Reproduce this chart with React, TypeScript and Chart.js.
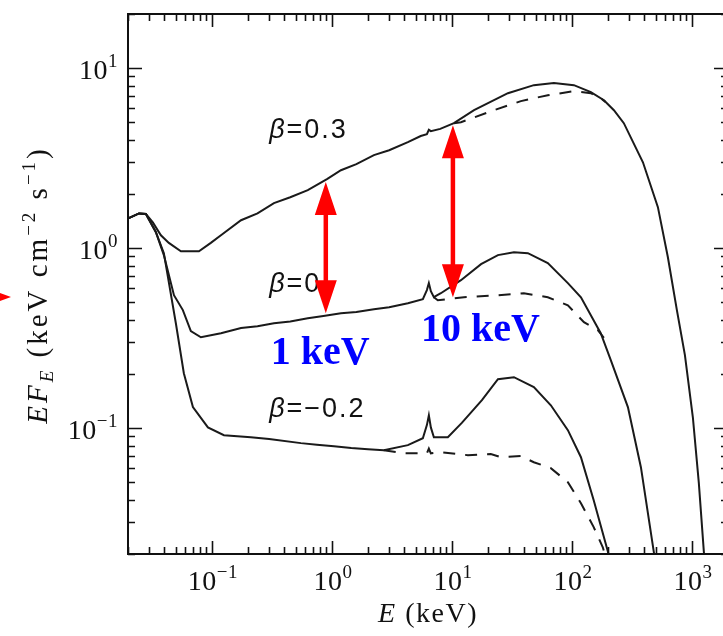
import { useEffect, useRef } from "react";
import { Chart, registerables } from "chart.js";

Chart.register(...registerables);

const CANVAS_W = 740;
const CANVAS_H = 636;

// axis ranges and ticks
const xRange = [0.02, 2000];
const yRange = [0.02, 20];
const xTickExponents = [-1, 0, 1, 2, 3];
const yTickExponents = [-1, 0, 1];
const minorMultipliers = [2, 3, 4, 5, 6, 7, 8, 9];

// beta = 0.3 (solid: total, dashed: without reflection hump)
const b03SolidE = [0.0203, 0.0247, 0.0282, 0.0322, 0.0376, 0.0438, 0.0552, 0.078, 0.098, 0.119, 0.175, 0.24, 0.329, 0.45, 0.63, 0.91, 1.19, 1.6, 2.24, 3.0, 4.3, 5.5, 6.19, 6.43, 6.68, 8.0, 10.4, 15.3, 29.3, 48.2, 70.8, 104, 144, 185, 224, 271, 391, 521, 631, 750, 875, 1019, 1143, 1259, 1300];
const b03SolidF = [1.47, 1.56, 1.55, 1.39, 1.18, 1.07, 0.962, 0.962, 1.07, 1.18, 1.43, 1.56, 1.78, 1.92, 2.1, 2.42, 2.71, 2.93, 3.29, 3.5, 3.88, 4.2, 4.3, 4.55, 4.47, 4.6, 4.95, 5.84, 7.26, 8.05, 8.26, 8.05, 7.36, 6.64, 5.84, 4.95, 3.0, 1.69, 0.891, 0.453, 0.2545, 0.115, 0.0495, 0.0205, 0.016];
const b03DashE = [10.4, 11.9, 22.4, 37.6, 63, 104, 144, 174, 190];
const b03DashF = [4.95, 5.01, 5.84, 6.56, 7.08, 7.45, 7.26, 6.81, 6.5];

// beta = 0
const b0SolidE = [0.0203, 0.0247, 0.0282, 0.0341, 0.0398, 0.0483, 0.0573, 0.0668, 0.081, 0.119, 0.175, 0.24, 0.329, 0.45, 0.63, 0.85, 1.19, 1.6, 2.24, 3.0, 4.3, 5.73, 6.19, 6.43, 6.68, 7.08, 8.09, 11.9, 17.5, 24.2, 32.9, 43, 63, 92.6, 119, 174, 211, 293, 376, 482, 500];
const b0SolidF = [1.47, 1.56, 1.55, 1.23, 0.915, 0.548, 0.453, 0.346, 0.32, 0.337, 0.36, 0.368, 0.383, 0.392, 0.408, 0.42, 0.435, 0.442, 0.458, 0.47, 0.495, 0.521, 0.585, 0.64, 0.577, 0.534, 0.562, 0.664, 0.815, 0.915, 0.95, 0.938, 0.826, 0.64, 0.534, 0.337, 0.239, 0.131, 0.0607, 0.0205, 0.017];
const b0DashE = [7.08, 7.63, 12.6, 24.2, 39.8, 63, 92.6, 126, 165, 185];
const b0DashF = [0.534, 0.514, 0.534, 0.548, 0.562, 0.534, 0.482, 0.388, 0.35, 0.318];

// beta = -0.2
const bm02SolidE = [0.0203, 0.0247, 0.0282, 0.0341, 0.0398, 0.0501, 0.0584, 0.0695, 0.0927, 0.126, 0.211, 0.3, 0.552, 0.75, 1.04, 1.45, 2.0, 2.71, 4.3, 5.73, 6.19, 6.43, 6.68, 7.08, 9.26, 12.1, 17.8, 24.2, 32.9, 48.2, 66.8, 92.6, 119, 152, 200, 210];
const bm02SolidF = [1.47, 1.56, 1.55, 1.23, 0.938, 0.383, 0.202, 0.131, 0.101, 0.0914, 0.0891, 0.087, 0.0826, 0.081, 0.0794, 0.0775, 0.0764, 0.0755, 0.0805, 0.088, 0.104, 0.118, 0.101, 0.0891, 0.0891, 0.107, 0.143, 0.187, 0.192, 0.169, 0.134, 0.0975, 0.069, 0.0398, 0.0205, 0.017];
const bm02DashE = [2.71, 4.0, 6.19, 6.43, 6.68, 8.09, 13.6, 21.1, 25.6, 37.6, 48.2, 66.8, 92.6, 119, 152, 181, 190];
const bm02DashF = [0.0755, 0.0726, 0.0725, 0.077, 0.0725, 0.0736, 0.0708, 0.0718, 0.069, 0.07, 0.0647, 0.06, 0.0501, 0.0383, 0.0282, 0.0218, 0.0195];

// annotations (data coordinates)
const betaLabels = ["0.3", "0", "\u22120.2"];
const betaLabelE = [0.3, 0.3, 0.3];
const betaLabelF = [4.08, 0.57, 0.115];
const keVLabels = ["1 keV", "10 keV"];
const keVLabelE = [0.31, 5.52];
const keVLabelF = [0.227, 0.304];
const arrowE = [0.89, 10.2];
const arrowTopF = [2.33, 4.82];
const arrowBottomF = [0.435, 0.534];

const SERIF = '"Liberation Serif", "Times New Roman", serif';
const SANS = '"Liberation Sans", Arial, Helvetica, sans-serif';

type Part = { t: string; size: number; style?: string; weight?: string; dy?: number; family?: string };

function partFont(p: Part) {
  return `${p.style || "normal"} ${p.weight || "normal"} ${p.size}px ${p.family || SERIF}`;
}

function drawParts(ctx: CanvasRenderingContext2D, parts: Part[], x: number, y: number, align: string, spacing: number) {
  (ctx as any).letterSpacing = spacing + "px";
  let w = 0;
  for (const p of parts) {
    ctx.font = partFont(p);
    w += ctx.measureText(p.t).width;
  }
  let cx = align === "center" ? x - w / 2 : align === "right" ? x - w : x;
  ctx.textAlign = "left";
  ctx.textBaseline = "alphabetic";
  for (const p of parts) {
    ctx.font = partFont(p);
    ctx.fillText(p.t, cx, y + (p.dy || 0));
    cx += ctx.measureText(p.t).width;
  }
  (ctx as any).letterSpacing = "0px";
}

function powerParts(exp: number): Part[] {
  return [
    { t: "10", size: 28 },
    { t: exp < 0 ? "\u2212" + Math.abs(exp) : String(exp), size: 19, dy: -12 },
  ];
}

function drawArrowHead(ctx: CanvasRenderingContext2D, x: number, tipY: number, dir: number, len: number, half: number) {
  ctx.beginPath();
  ctx.moveTo(x, tipY);
  ctx.lineTo(x - half, tipY + dir * len);
  ctx.lineTo(x + half, tipY + dir * len);
  ctx.closePath();
  ctx.fill();
}

const decorPlugin = {
  id: "decor",
  afterDraw(chart: any) {
    const ctx: CanvasRenderingContext2D = chart.ctx;
    const a = chart.chartArea;
    const xs = chart.scales.x;
    const ys = chart.scales.y;
    ctx.save();

    // frame
    ctx.strokeStyle = "#111";
    ctx.lineWidth = 2;
    ctx.strokeRect(a.left, a.top, a.right - a.left, a.bottom - a.top);

    // ticks (inward)
    ctx.lineWidth = 1.6;
    const xTicks: { v: number; major: boolean }[] = [];
    for (let k = -2; k <= 3; k++) {
      const base = Math.pow(10, k);
      xTicks.push({ v: base, major: true });
      for (const m of minorMultipliers) xTicks.push({ v: m * base, major: false });
    }
    ctx.beginPath();
    for (const t of xTicks) {
      if (t.v < xRange[0] * 0.999 || t.v > xRange[1] * 1.001) continue;
      const px = Math.round(xs.getPixelForValue(t.v)) + 0.5;
      const len = t.major ? 13 : 7;
      ctx.moveTo(px, a.bottom);
      ctx.lineTo(px, a.bottom - len);
      ctx.moveTo(px, a.top);
      ctx.lineTo(px, a.top + len);
    }
    const yTicks: { v: number; major: boolean }[] = [];
    for (let k = -2; k <= 1; k++) {
      const base = Math.pow(10, k);
      yTicks.push({ v: base, major: true });
      for (const m of minorMultipliers) yTicks.push({ v: m * base, major: false });
    }
    for (const t of yTicks) {
      if (t.v < yRange[0] * 0.999 || t.v > yRange[1] * 1.001) continue;
      const py = Math.round(ys.getPixelForValue(t.v)) + 0.5;
      const len = t.major ? 14 : 7;
      ctx.moveTo(a.left, py);
      ctx.lineTo(a.left + len, py);
      ctx.moveTo(a.right, py);
      ctx.lineTo(a.right - len, py);
    }
    ctx.stroke();

    // tick labels
    ctx.fillStyle = "#111";
    for (const e of xTickExponents) {
      const px = xs.getPixelForValue(Math.pow(10, e));
      drawParts(ctx, powerParts(e), px + 1, a.bottom + 36, "center", 0.5);
    }
    for (const e of yTickExponents) {
      const py = ys.getPixelForValue(Math.pow(10, e));
      drawParts(ctx, powerParts(e), a.left - 10, py + 11, "right", 0.5);
    }

    // axis titles
    drawParts(
      ctx,
      [
        { t: "E", size: 28, style: "italic" },
        { t: " (keV)", size: 28 },
      ],
      (a.left + a.right) / 2,
      a.bottom + 68,
      "center",
      1.5
    );
    ctx.save();
    ctx.translate(47, (a.top + a.bottom) / 2 + 1);
    ctx.rotate(-Math.PI / 2);
    drawParts(
      ctx,
      [
        { t: "EF", size: 29, style: "italic" },
        { t: "E", size: 19, style: "italic", dy: 6 },
        { t: " (keV cm", size: 29 },
        { t: "\u22122", size: 19, dy: -12 },
        { t: " s", size: 29 },
        { t: "\u22121", size: 19, dy: -12 },
        { t: ")", size: 29 },
      ],
      0,
      0,
      "center",
      3
    );
    ctx.restore();

    // beta labels
    for (let i = 0; i < betaLabels.length; i++) {
      const px = xs.getPixelForValue(betaLabelE[i]);
      const py = ys.getPixelForValue(betaLabelF[i]);
      drawParts(
        ctx,
        [
          { t: "\u03b2", size: 27, style: "italic", family: SANS },
          { t: "=" + betaLabels[i], size: 27, family: SANS },
        ],
        px,
        py,
        "left",
        2
      );
    }

    // red arrows
    ctx.fillStyle = "#ff0000";
    ctx.strokeStyle = "#ff0000";
    for (let i = 0; i < arrowE.length; i++) {
      const px = xs.getPixelForValue(arrowE[i]);
      const top = ys.getPixelForValue(arrowTopF[i]);
      const bot = ys.getPixelForValue(arrowBottomF[i]);
      ctx.lineWidth = 4.5;
      ctx.beginPath();
      ctx.moveTo(px, top + 20);
      ctx.lineTo(px, bot - 20);
      ctx.stroke();
      drawArrowHead(ctx, px, top, 1, 33, 11);
      drawArrowHead(ctx, px, bot, -1, 33, 11);
    }
    // partial red arrowhead at the left edge
    ctx.beginPath();
    ctx.moveTo(-14, 288);
    ctx.lineTo(11, 297);
    ctx.lineTo(-14, 306);
    ctx.closePath();
    ctx.fill();

    // blue keV labels
    ctx.fillStyle = "#0000ff";
    for (let i = 0; i < keVLabels.length; i++) {
      const px = xs.getPixelForValue(keVLabelE[i]);
      const py = ys.getPixelForValue(keVLabelF[i]);
      drawParts(ctx, [{ t: keVLabels[i], size: 40, weight: "bold" }], px, py, "left", 0);
    }

    ctx.restore();
  },
};

function zip(es: number[], fs: number[]) {
  return es.map((e, i) => ({ x: e, y: fs[i] }));
}

export default function App() {
  const ref = useRef<HTMLCanvasElement | null>(null);
  useEffect(() => {
    if (!ref.current) return;
    const solid = { borderColor: "#1a1a1a", borderWidth: 2, pointRadius: 0, tension: 0, fill: false };
    const dashed = { ...solid, borderDash: [12, 10] };
    const chart = new Chart(ref.current, {
      type: "line",
      data: {
        datasets: [
          { label: "β=0.3", data: zip(b03SolidE, b03SolidF), ...solid },
          { label: "β=0.3 dashed", data: zip(b03DashE, b03DashF), ...dashed },
          { label: "β=0", data: zip(b0SolidE, b0SolidF), ...solid },
          { label: "β=0 dashed", data: zip(b0DashE, b0DashF), ...dashed },
          { label: "β=-0.2", data: zip(bm02SolidE, bm02SolidF), ...solid },
          { label: "β=-0.2 dashed", data: zip(bm02DashE, bm02DashF), ...dashed },
        ] as any,
      },
      options: {
        responsive: false,
        animation: false,
        devicePixelRatio: 1,
        layout: { padding: { left: 128, top: 14, right: CANVAS_W - 728, bottom: CANVAS_H - 554 } },
        plugins: { legend: { display: false }, tooltip: { enabled: false } },
        scales: {
          x: { type: "logarithmic", min: xRange[0], max: xRange[1], display: false },
          y: { type: "logarithmic", min: yRange[0], max: yRange[1], display: false },
        },
      },
      plugins: [decorPlugin],
    });
    return () => chart.destroy();
  }, []);
  return (
    <div style={{ position: "fixed", left: 0, top: 0, width: 723, height: 636, overflow: "hidden", background: "#fff" }}>
      <canvas ref={ref} width={CANVAS_W} height={CANVAS_H} style={{ display: "block" }} />
    </div>
  );
}
